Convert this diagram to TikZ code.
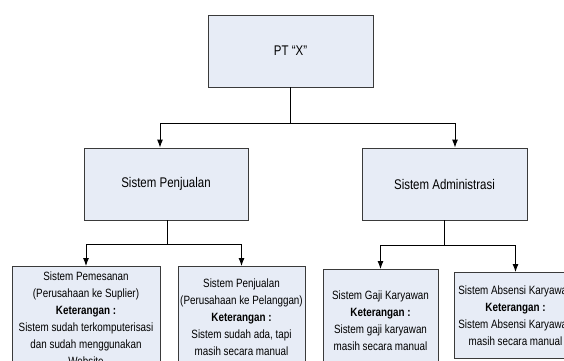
\documentclass[tikz,border=0pt]{standalone}
\usepackage{fontspec}
\setmainfont{Liberation Sans}[FakeStretch=0.82]
\usetikzlibrary{arrows.meta,positioning}
\definecolor{boxfill}{HTML}{E7ECF6}
\definecolor{boxline}{HTML}{3A3A3A}
\tikzset{
	unit/.style={draw=boxline, fill=boxfill, line width=0.9pt, align=center, inner sep=0pt},
	bigunit/.style={unit, minimum width=165pt, minimum height=72pt, font=\fontsize{14}{17}\selectfont},
	subunit/.style={unit, anchor=north, font=\fontsize{12}{17}\selectfont},
	link/.style={line width=0.9pt},
	arrowlink/.style={link, -{Latex[length=8pt,width=6pt]}}
}

\begin{document}
\begin{tikzpicture}[x=1pt,y=-1pt]
			\clip (0,0) rectangle (564,360);
			
			% Fixed coordinates
			\node (pt) at (290.5,51) [bigunit] {PT ``X''};
			\node (pen) at (166,184) [bigunit, minimum width=164pt] {Sistem Penjualan};
			\node (adm) at (444.5,184) [bigunit] {Sistem Administrasi};
			
			% Sub systems
			\node (s1) at (86,266) [subunit, minimum width=148pt, minimum height=104pt]
			{Sistem Pemesanan\\(Perusahaan ke Suplier)\\\textbf{Keterangan :}\\Sistem sudah terkomputerisasi\\dan sudah menggunakan\\Website};
			\node (s2) at (241.5,266) [subunit, minimum width=127pt, minimum height=102pt]
			{Sistem Penjualan\\(Perusahaan ke Pelanggan)\\\textbf{Keterangan :}\\Sistem sudah ada, tapi\\masih secara manual};
			\node (s3) at (380.5,269) [subunit, minimum width=115pt, minimum height=103pt]
			{Sistem Gaji Karyawan\\\textbf{Keterangan :}\\Sistem gaji karyawan\\masih secara manual};
			\node (s4) at (515.5,272) [subunit, minimum width=123pt, minimum height=86pt]
			{Sistem Absensi Karyawan\\\textbf{Keterangan :}\\Sistem Absensi Karyawan\\masih secara manual};
			
			% PT to the two systems
			\draw[link] (pt.south) -- ++(0,36) coordinate (split1);
			\draw[arrowlink] (split1) -| ([xshift=-6pt]pen.north);
			\draw[arrowlink] (split1) -| ([xshift=10.5pt]adm.north);
			
			% Penjualan
			\draw[link] ([xshift=1pt]pen.south) -- ++(0,24) coordinate (split2);
			\draw[arrowlink] (split2) -| (s1.north);
			\draw[arrowlink] (split2) -| (s2.north);
			
			% Administrasi
			\draw[link] (adm.south) -- ++(0,25) coordinate (split3);
			\draw[arrowlink] (split3) -| (s3.north);
			\draw[arrowlink] (split3) -| (s4.north);
		\end{tikzpicture}
\end{document}
